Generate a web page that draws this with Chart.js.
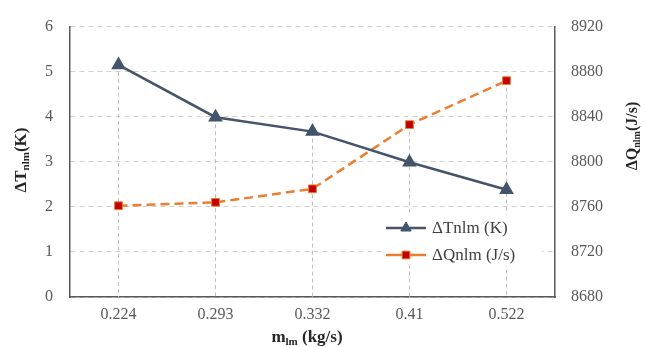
<!DOCTYPE html>
<html>
<head>
<meta charset="utf-8">
<script src="https://cdn.jsdelivr.net/npm/chart.js@4/dist/chart.umd.min.js"></script>
<style>
    html, body { margin: 0; padding: 0; background: #fff; }
    #wrap { width: 646px; height: 347px; position: relative; }
</style>
</head>
<body>
<div id="wrap"><canvas id="chart"></canvas></div>
<script>
// data
const massFlow = ["0.224", "0.293", "0.332", "0.41", "0.522"];
const deltaT = [5.15, 3.99, 3.67, 2.99, 2.38];
const deltaQ = [8761, 8764, 8776, 8833, 8872];
const leftTicks = [0, 1, 2, 3, 4, 5, 6];
const rightTicks = [8680, 8720, 8760, 8800, 8840, 8880, 8920];

const serif = "'Liberation Serif', 'Times New Roman', serif";
const tickColor = "#595959";

// draw a label with subscript pieces, centred at (0,0) of current transform
function richText(ctx, parts, size) {
    const subSize = Math.round(size * 0.65);
    let total = 0;
    parts.forEach(p => {
        ctx.font = "bold " + (p.sub ? subSize : size) + "px " + serif;
        p.w = ctx.measureText(p.t).width;
        total += p.w;
    });
    let x = -total / 2;
    ctx.textBaseline = "alphabetic";
    ctx.textAlign = "left";
    parts.forEach(p => {
        ctx.font = "bold " + (p.sub ? subSize : size) + "px " + serif;
        ctx.fillText(p.t, x, p.sub ? size * 0.35 + 3 : size * 0.35);
        x += p.w;
    });
}

const extras = {
    id: "extras",
    beforeDatasetsDraw(chart) {
        // drop lines from the highest marker of each category
        const ctx = chart.ctx;
        const xs = chart.scales.x, y = chart.scales.y, y2 = chart.scales.y2;
        ctx.save();
        ctx.strokeStyle = "#BFBFBF";
        ctx.lineWidth = 1;
        ctx.setLineDash([4, 3]);
        massFlow.forEach((c, i) => {
            const px = xs.getPixelForValue(i);
            const top = Math.min(y.getPixelForValue(deltaT[i]), y2.getPixelForValue(deltaQ[i]));
            ctx.beginPath();
            ctx.moveTo(px, top);
            ctx.lineTo(px, chart.chartArea.bottom);
            ctx.stroke();
        });
        ctx.restore();
    },
    afterDraw(chart) {
        const ctx = chart.ctx;
        ctx.save();
        ctx.fillStyle = "#262626";

        // axis titles
        ctx.save();
        ctx.translate(20, 160);
        ctx.rotate(-Math.PI / 2);
        richText(ctx, [{ t: "ΔT" }, { t: "nlm", sub: true }, { t: "(K)" }], 17);
        ctx.restore();

        ctx.save();
        ctx.translate(631, 136);
        ctx.rotate(-Math.PI / 2);
        richText(ctx, [{ t: "ΔQ" }, { t: "nlm", sub: true }, { t: "(J/s)" }], 16);
        ctx.restore();

        ctx.save();
        ctx.translate(307, 336);
        richText(ctx, [{ t: "m" }, { t: "lm", sub: true }, { t: " (kg/s)" }], 17);
        ctx.restore();

        // legend inside the plot
        const lx = 386, ly = 228;
        ctx.fillStyle = "#fff";
        ctx.fillRect(lx - 4, ly - 14, 160, 52);
        chart.data.datasets.forEach((ds, i) => {
            const yy = ly + i * 27;
            ctx.save();
            ctx.strokeStyle = ds.borderColor;
            ctx.lineWidth = ds.borderWidth;
            ctx.beginPath();
            ctx.moveTo(lx, yy);
            ctx.lineTo(lx + 40, yy);
            ctx.stroke();
            ctx.fillStyle = ds.pointBackgroundColor;
            ctx.strokeStyle = ds.pointBorderColor;
            ctx.lineWidth = 1;
            Chart.helpers.drawPoint(ctx, {
                pointStyle: ds.pointStyle,
                radius: ds.pointRadius,
                borderWidth: 1,
                rotation: 0
            }, lx + 20, yy);
            ctx.restore();
            ctx.fillStyle = "#404040";
            ctx.font = "17px " + serif;
            ctx.textBaseline = "middle";
            ctx.textAlign = "left";
            ctx.fillText(ds.label, lx + 46, yy + 1);
        });
        ctx.restore();
    }
};

new Chart(document.getElementById("chart"), {
    type: "line",
    data: {
        labels: massFlow,
        datasets: [
            {
                label: "ΔTnlm (K)",
                data: deltaT,
                yAxisID: "y",
                borderColor: "#44546A",
                borderWidth: 2.5,
                pointStyle: "triangle",
                pointRadius: 6,
                pointBackgroundColor: "#44546A",
                pointBorderColor: "#44546A",
                tension: 0
            },
            {
                label: "ΔQnlm (J/s)",
                data: deltaQ,
                yAxisID: "y2",
                borderColor: "#ED7D31",
                borderWidth: 2.5,
                borderDash: [9, 5],
                pointStyle: "rect",
                pointRadius: 5.5,
                pointBackgroundColor: "#C00000",
                pointBorderColor: "#ED7D31",
                pointBorderWidth: 1,
                tension: 0
            }
        ]
    },
    options: {
        responsive: true,
        maintainAspectRatio: false,
        animation: false,
        layout: { padding: { top: 20, right: 0, left: 0, bottom: 0 } },
        plugins: {
            legend: { display: false },
            tooltip: { enabled: false }
        },
        scales: {
            x: {
                offset: true,
                grid: { display: false, drawTicks: false },
                border: { display: true, color: "#595959", width: 1.5 },
                ticks: {
                    color: tickColor,
                    font: { family: serif, size: 16 },
                    padding: 8
                },
                afterFit: function (scale) { scale.height = 50; }
            },
            y: {
                position: "left",
                min: 0,
                max: 6,
                afterBuildTicks: function (scale) {
                    scale.ticks = leftTicks.map(v => ({ value: v }));
                },
                grid: {
                    color: "#D0D0D0",
                    drawTicks: false
                },
                border: { display: true, color: "#595959", width: 1.5, dash: [5, 4] },
                ticks: {
                    color: tickColor,
                    font: { family: serif, size: 16 },
                    padding: 17
                },
                afterFit: function (scale) { scale.width = 70; }
            },
            y2: {
                position: "right",
                min: 8680,
                max: 8920,
                afterBuildTicks: function (scale) {
                    scale.ticks = rightTicks.map(v => ({ value: v }));
                },
                grid: { display: false, drawTicks: false },
                border: { display: true, color: "#595959", width: 1.5 },
                ticks: {
                    color: tickColor,
                    font: { family: serif, size: 16 },
                    padding: 16,
                    callback: function (value) { return String(value); }
                },
                afterFit: function (scale) { scale.width = 91; }
            }
        }
    },
    plugins: [extras]
});
</script>
</body>
</html>
